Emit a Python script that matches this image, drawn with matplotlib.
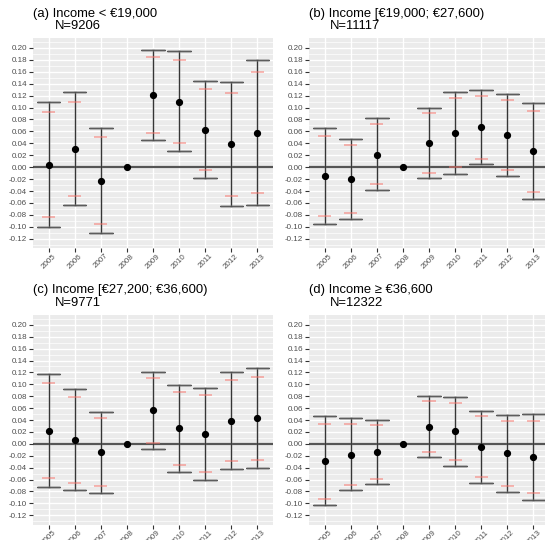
import matplotlib
matplotlib.use("Agg")
import matplotlib.pyplot as plt
import matplotlib.transforms as mtransforms
import numpy as np

plt.rcParams['font.family'] = ['Liberation Sans', 'DejaVu Sans']

years = ['2005', '2006', '2007', '2008', '2009', '2010', '2011', '2012', '2013']

titles = ['(a) Income < €19,000', '(b) Income [€19,000; €27,600)',
          '(c) Income [€27,200; €36,600)', '(d) Income ≥ €36,600']
sample_sizes = ['N=9206', 'N=11117', 'N=9771', 'N=12322']

# point estimates (2008 is the reference year)
est_a = [0.004, 0.031, -0.023, 0.0, 0.121, 0.110, 0.062, 0.038, 0.058]
est_b = [-0.015, -0.020, 0.021, 0.0, 0.041, 0.057, 0.067, 0.054, 0.027]
est_c = [0.022, 0.007, -0.013, 0.0, 0.057, 0.027, 0.017, 0.039, 0.043]
est_d = [-0.029, -0.018, -0.013, 0.0, 0.029, 0.021, -0.005, -0.016, -0.022]

# outer interval (wide grey caps)
hi_a = [0.110, 0.126, 0.065, None, 0.197, 0.194, 0.144, 0.142, 0.179]
lo_a = [-0.100, -0.063, -0.110, None, 0.046, 0.027, -0.018, -0.065, -0.063]
hi_b = [0.066, 0.047, 0.082, None, 0.100, 0.126, 0.129, 0.123, 0.107]
lo_b = [-0.095, -0.087, -0.039, None, -0.018, -0.011, 0.005, -0.015, -0.054]
hi_c = [0.117, 0.093, 0.054, None, 0.121, 0.099, 0.094, 0.120, 0.127]
lo_c = [-0.073, -0.078, -0.082, None, -0.008, -0.047, -0.061, -0.042, -0.041]
hi_d = [0.047, 0.043, 0.040, None, 0.080, 0.078, 0.055, 0.048, 0.051]
lo_d = [-0.103, -0.078, -0.067, None, -0.022, -0.037, -0.066, -0.081, -0.094]

# inner interval (short red caps)
rhi_a = [0.093, 0.110, 0.051, None, 0.185, 0.180, 0.131, 0.125, 0.160]
rlo_a = [-0.084, -0.048, -0.096, None, 0.058, 0.040, -0.005, -0.048, -0.044]
rhi_b = [0.053, 0.037, 0.072, None, 0.090, 0.116, 0.119, 0.112, 0.094]
rlo_b = [-0.082, -0.077, -0.028, None, -0.009, 0.000, 0.014, -0.004, -0.041]
rhi_c = [0.102, 0.079, 0.043, None, 0.110, 0.087, 0.082, 0.107, 0.113]
rlo_c = [-0.058, -0.065, -0.071, None, 0.002, -0.035, -0.048, -0.028, -0.027]
rhi_d = [0.034, 0.033, 0.031, None, 0.072, 0.068, 0.046, 0.038, 0.039]
rlo_d = [-0.092, -0.069, -0.059, None, -0.013, -0.027, -0.056, -0.071, -0.082]

panels = [
    (est_a, hi_a, lo_a, rhi_a, rlo_a),
    (est_b, hi_b, lo_b, rhi_b, rlo_b),
    (est_c, hi_c, lo_c, rhi_c, rlo_c),
    (est_d, hi_d, lo_d, rhi_d, rlo_d),
]

W, H = 545, 540
fig = plt.figure(figsize=(W / 100, H / 100), dpi=100)

# panel boxes in pixels: left, top, right, bottom
boxes = [(33, 38, 273, 248), (309, 38, 549, 248),
         (33, 315, 273, 524.5), (309, 315, 549, 524.5)]
# title baselines in pixels: x1, y1, x2, y2
title_pos = [(33, 16.8, 55, 29.4), (309, 16.8, 330, 29.4),
             (33, 293.3, 55, 306), (309, 293.3, 330, 306)]

yticks = np.round(np.arange(-0.12, 0.2001, 0.02), 2)
x = np.arange(len(years))

for i, (est, hi, lo, rhi, rlo) in enumerate(panels):
    l, t, r, b = boxes[i]
    ax = fig.add_axes([l / W, 1 - b / H, (r - l) / W, (b - t) / H])
    ax.set_facecolor('#EBEBEB')
    for s in ax.spines.values():
        s.set_visible(False)

    ax.set_xlim(-0.6, len(years) - 0.4)
    ax.set_ylim(-0.1355, 0.2165)

    # grid
    for yv in np.arange(-0.13, 0.2101, 0.02):
        ax.axhline(yv, color='white', lw=0.5, zorder=0)
    for yv in yticks:
        ax.axhline(yv, color='white', lw=1.0, zorder=0)
    for xv in x:
        ax.axvline(xv, color='white', lw=1.0, zorder=0)

    ax.axhline(0, color='#555555', lw=1.6, zorder=1)

    for j in range(len(years)):
        if hi[j] is None:
            continue
        # outer interval
        ax.plot([x[j], x[j]], [lo[j], hi[j]], color='#1a1a1a', lw=0.8, zorder=2)
        ax.plot([x[j], x[j]], [lo[j], hi[j]], color='#777777', lw=1.8, alpha=0.3, zorder=2)
        for yv in (lo[j], hi[j]):
            ax.plot([x[j] - 0.45, x[j] + 0.45], [yv, yv], color='#1a1a1a', lw=0.6, zorder=2)
            ax.plot([x[j] - 0.45, x[j] + 0.45], [yv, yv], color='#777777', lw=2.0,
                    alpha=0.55, zorder=2, solid_capstyle='butt')
        # inner interval caps
        for yv in (rlo[j], rhi[j]):
            ax.plot([x[j] - 0.25, x[j] + 0.25], [yv, yv], color='#F8766D', lw=1.3,
                    alpha=0.55, zorder=2, solid_capstyle='butt')

    ax.plot(x, est, 'o', color='black', ms=4.2, zorder=3)

    ax.set_yticks(yticks)
    ax.set_yticklabels(['%.2f' % v for v in yticks])
    ax.set_xticks(x)
    ax.set_xticklabels(years, rotation=45, ha='center', va='top')
    offset = mtransforms.ScaledTranslation(2.5 / 100, 0, fig.dpi_scale_trans)
    for lab in ax.get_xticklabels():
        lab.set_transform(lab.get_transform() + offset)
    ax.tick_params(axis='both', length=3, width=0.8, color='#333333',
                   labelcolor='#4D4D4D', labelsize=5.8, pad=1.2)
    ax.tick_params(axis='x', pad=0.2)

    tx1, ty1, tx2, ty2 = title_pos[i]
    fig.text(tx1 / W, 1 - ty1 / H, titles[i], fontsize=9.4, ha='left', va='baseline')
    fig.text(tx2 / W, 1 - ty2 / H, sample_sizes[i], fontsize=9.4, ha='left', va='baseline')

fig.savefig('out.png', dpi=100)
